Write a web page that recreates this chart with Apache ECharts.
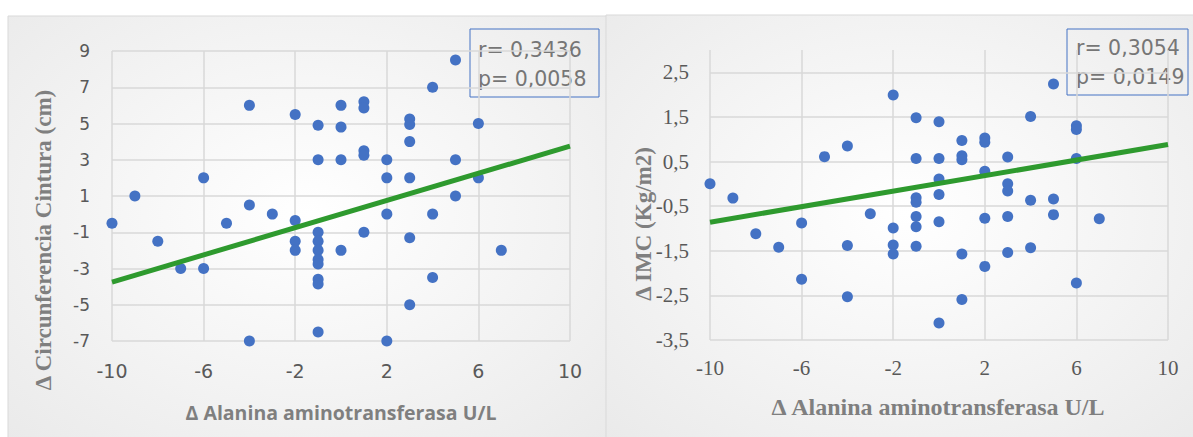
<!DOCTYPE html>
<html>
<head>
<meta charset="utf-8">
<title>ALT vs cintura / IMC</title>
<script src="https://cdn.jsdelivr.net/npm/echarts@6/dist/echarts.min.js"></script>
<style>
  html, body { margin: 0; padding: 0; background: #fff; }
  #chart { width: 1193px; height: 437px; }
</style>
</head>
<body>
<div id="chart"></div>
<script>
// left panel: Δ ALT (U/L) vs Δ circunferencia cintura (cm)
const altCintura = [5, 4, -4, -2, -1, 0, 0, 1, 1, 3, 3, 6, 3, -1, 0, 1, 1, 2, 5, 2, 3, 6, -6, -9, 5, -4, -3, 2, 4,
  -10, -5, -2, -1, 1, -8, -2, -1, 3, -2, -1, 0, 7, -1, -1, -7, -6, -1, -1, 4, 3, -1, -4, 2]
const cintura = [8.5, 7, 6, 5.5, 4.9, 6, 4.8, 6.2, 5.85, 5.25, 4.95, 5, 4, 3, 3, 3.5, 3.25, 3, 3, 2, 2, 2, 2, 1, 1, 0.5, 0, 0, 0,
  -0.5, -0.5, -0.35, -1, -1, -1.5, -1.5, -1.5, -1.3, -2, -2, -2, -2, -2.5, -2.75, -3, -3, -3.6, -3.85, -3.5, -5, -6.5, -7, -7]

// right panel: Δ ALT (U/L) vs Δ IMC (kg/m2)
const altImc = [-10, -9, -5, -4, -2, -1, 0, 1, 2, 2, 4, 5, 6, 6, -1, 0, 1, 1, 3, 6, 2, 0, 3, 3, 0, -1, -1, 4, 5,
  -3, -1, -1, 0, 2, 3, 5, 7, -6, -8, -2, -7, -4, -2, -2, -1, 1, 3, 4, 2, -6, 6, -4, 1, 0]
const imc = [0.0, -0.32, 0.61, 0.85, 1.99, 1.48, 1.39, 0.97, 1.03, 0.93, 1.51, 2.24, 1.3, 1.22, 0.57, 0.57, 0.63, 0.54, 0.6, 0.57, 0.28, 0.11, 0.0, -0.16, -0.24, -0.31, -0.41, -0.37, -0.34,
  -0.67, -0.73, -0.96, -0.85, -0.77, -0.73, -0.69, -0.78, -0.88, -1.12, -0.99, -1.42, -1.38, -1.37, -1.57, -1.4, -1.57, -1.54, -1.43, -1.85, -2.14, -2.22, -2.53, -2.59, -3.12]

// linear trend lines (end points)
const trendX = [-10, 10]
const trendCintura = [-3.75, 3.75]
const trendImc = [-0.86, 0.88]

const statsCintura = ['r= 0,3436', 'p= 0,0058']
const statsImc = ['r= 0,3054', 'p= 0,0149']

const xTitle = 'Δ Alanina aminotransferasa U/L'
const yTitleCintura = 'Δ Circunferencia Cintura (cm)'
const yTitleImc = 'Δ IMC (Kg/m2)'

const pairs = (xs, ys) => xs.map((x, i) => [x, ys[i]])
const comma = v => String(v).replace('.', ',')

const sans = 'DejaVu Sans'
const serif = 'Liberation Serif'
const gridColor = '#d9d9d9'
const dotColor = '#4472c4'
const trendColor = '#2e9a2e'

function panelBg(x, y) {
  return {
    type: 'rect',
    z: -10,
    shape: { x: x, y: y, width: 600, height: 440 },
    style: {
      fill: new echarts.graphic.RadialGradient(0.5, 0.45, 0.75, [
        { offset: 0, color: '#ffffff' },
        { offset: 1, color: '#e9e9e9' }
      ]),
      stroke: '#d9d9d9',
      lineWidth: 1
    }
  }
}

function statBox(x, y, w, h, tx, ty, lines) {
  return {
    type: 'group',
    z: 20,
    children: [
      { type: 'rect', shape: { x: x, y: y, width: w, height: h },
        style: { fill: 'none', stroke: dotColor, lineWidth: 1 } },
      { type: 'text', x: tx, y: ty, style: { text: lines[0], font: '20.5px "' + sans + '"', fill: '#767676', verticalAlign: 'middle' } },
      { type: 'text', x: tx, y: ty + 29, style: { text: lines[1], font: '20.5px "' + sans + '"', fill: '#767676', verticalAlign: 'middle' } }
    ]
  }
}

const chart = echarts.init(document.getElementById('chart'), null, { renderer: 'svg' })

chart.setOption({
  animation: false,
  backgroundColor: '#ffffff',
  grid: [
    { left: 112, top: 51, width: 458, height: 290 },
    { left: 710, top: 50, width: 458, height: 290 }
  ],
  xAxis: [0, 1].map(i => ({
    type: 'value',
    gridIndex: i,
    min: -10,
    max: 10,
    interval: 4,
    axisLine: { show: false },
    axisTick: { show: false },
    splitLine: { lineStyle: { color: gridColor, width: 1.5 } },
    axisLabel: i === 0
      ? { color: '#595959', fontFamily: sans, fontSize: 19, margin: 20 }
      : { color: '#595959', fontFamily: serif, fontSize: 21, margin: 17 }
  })),
  yAxis: [
    {
      type: 'value',
      gridIndex: 0,
      min: -7,
      max: 9,
      interval: 2,
      axisLine: { show: false },
      axisTick: { show: false },
      splitLine: { lineStyle: { color: gridColor, width: 1.5 } },
      axisLabel: { color: '#595959', fontFamily: sans, fontSize: 17, margin: 22 }
    },
    {
      type: 'value',
      gridIndex: 1,
      min: -3.5,
      max: 3,
      interval: 1,
      axisLine: { show: false },
      axisTick: { show: false },
      splitLine: { showMaxLine: false, lineStyle: { color: gridColor, width: 1.5 } },
      axisLabel: { color: '#595959', fontFamily: serif, fontSize: 21, margin: 21, showMaxLabel: false, formatter: comma }
    }
  ],
  series: [
    {
      type: 'scatter', xAxisIndex: 0, yAxisIndex: 0,
      data: pairs(altCintura, cintura),
      symbolSize: 11,
      itemStyle: { color: dotColor, opacity: 1 }
    },
    {
      type: 'line', xAxisIndex: 0, yAxisIndex: 0, z: 5,
      data: pairs(trendX, trendCintura),
      symbol: 'none',
      lineStyle: { color: trendColor, width: 5 }
    },
    {
      type: 'scatter', xAxisIndex: 1, yAxisIndex: 1,
      data: pairs(altImc, imc),
      symbolSize: 11,
      itemStyle: { color: dotColor, opacity: 1 }
    },
    {
      type: 'line', xAxisIndex: 1, yAxisIndex: 1, z: 5,
      data: pairs(trendX, trendImc),
      symbol: 'none',
      lineStyle: { color: trendColor, width: 5 }
    }
  ],
  graphic: [
    panelBg(8, 16),
    panelBg(606, 15),
    {
      type: 'text', x: 43, y: 240, rotation: Math.PI / 2,
      style: { text: yTitleCintura, font: 'bold 23px "' + serif + '"', fill: '#7f7f7f', align: 'center', verticalAlign: 'middle' }
    },
    {
      type: 'text', x: 341, y: 412,
      style: { text: xTitle, font: 'bold 19.5px "Open Sans"', fill: '#7f7f7f', align: 'center', verticalAlign: 'middle' }
    },
    {
      type: 'text', x: 643, y: 224, rotation: Math.PI / 2,
      style: { text: yTitleImc, font: 'bold 23px "' + serif + '"', fill: '#7f7f7f', align: 'center', verticalAlign: 'middle' }
    },
    {
      type: 'text', x: 938, y: 407,
      style: { text: xTitle, font: 'bold 24px "' + serif + '"', fill: '#7f7f7f', align: 'center', verticalAlign: 'middle' }
    },
    statBox(470, 29, 129, 68, 478, 50, statsCintura),
    statBox(1067, 29, 121, 66, 1076, 48, statsImc)
  ]
})
</script>
</body>
</html>
